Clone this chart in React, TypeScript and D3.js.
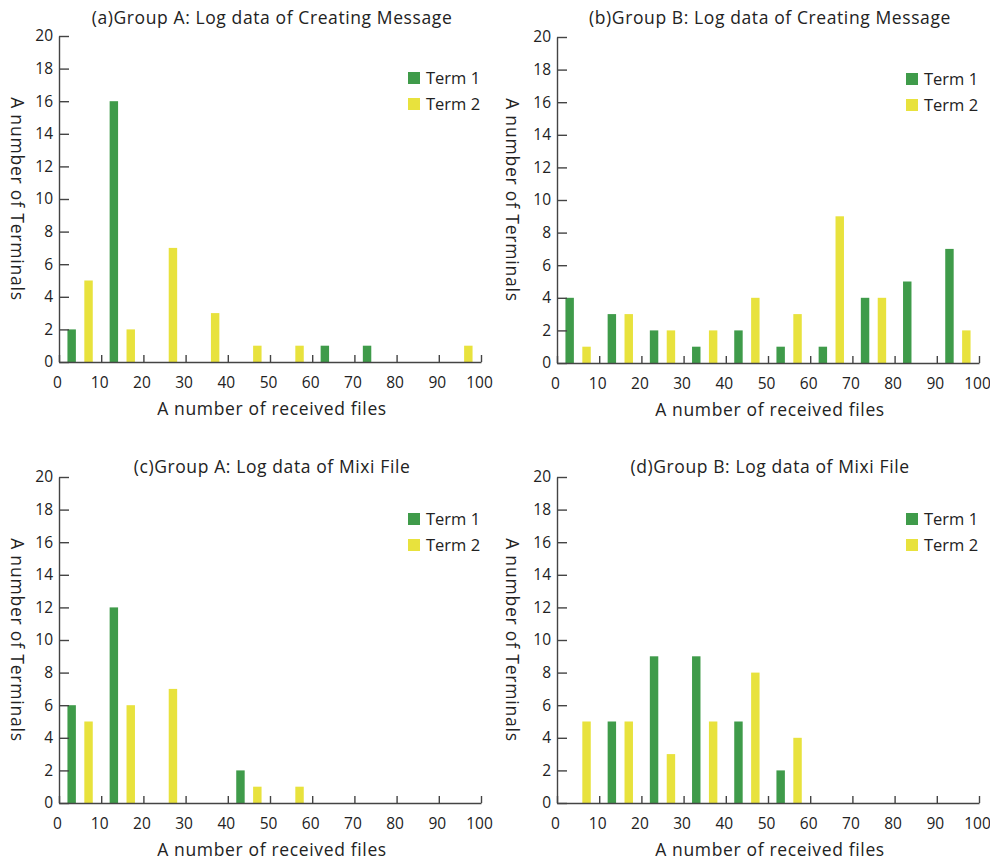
import React, { useEffect, useRef } from 'react';
import * as d3 from 'd3';

// bins of received files (each bin is 10 wide)
const binStarts = [0, 10, 20, 30, 40, 50, 60, 70, 80, 90];
const terms = ['Term 1', 'Term 2'];
const xTicks = [0, 10, 20, 30, 40, 50, 60, 70, 80, 90, 100];
const yTicks = [0, 2, 4, 6, 8, 10, 12, 14, 16, 18, 20];

// (a) Group A, Creating Message
const aTerm1 = [2, 16, 0, 0, 0, 0, 1, 1, 0, 0];
const aTerm2 = [5, 2, 7, 3, 1, 1, 0, 0, 0, 1];
// (b) Group B, Creating Message
const bTerm1 = [4, 3, 2, 1, 2, 1, 1, 4, 5, 7];
const bTerm2 = [1, 3, 2, 2, 4, 3, 9, 4, 0, 2];
// (c) Group A, Mixi File
const cTerm1 = [6, 12, 0, 0, 2, 0, 0, 0, 0, 0];
const cTerm2 = [5, 6, 7, 0, 1, 1, 0, 0, 0, 0];
// (d) Group B, Mixi File
const dTerm1 = [0, 5, 9, 9, 5, 2, 0, 0, 0, 0];
const dTerm2 = [5, 5, 3, 5, 8, 4, 0, 0, 0, 0];

const titles = [
  '(a)Group A: Log data of Creating Message',
  '(b)Group B: Log data of Creating Message',
  '(c)Group A: Log data of Mixi File',
  '(d)Group B: Log data of Mixi File',
];

const colors = { 'Term 1': '#3f9b4a', 'Term 2': '#e8e23d' };
const FONT = '"Open Sans", "Noto Sans", sans-serif';
const INK = '#222';
const AXIS = '#444';

const App = () => {
  const svgRef = useRef(null);

  useEffect(() => {
    document.body.style.margin = '0';
    const svg = d3.select(svgRef.current);
    svg.selectAll('*').remove();

    const plotW = 422;
    const plotH = 326;
    const layout = [
      { left: 59, top: 36, titleY: 23.5, yTitleX: 11 },
      { left: 557, top: 37, titleY: 23.5, yTitleX: 506 },
      { left: 59, top: 477, titleY: 472.5, yTitleX: 11 },
      { left: 557, top: 477, titleY: 472.5, yTitleX: 506 },
    ];
    const series = [
      [aTerm1, aTerm2],
      [bTerm1, bTerm2],
      [cTerm1, cTerm2],
      [dTerm1, dTerm2],
    ];

    layout.forEach((p, i) => {
      const g = svg.append('g').attr('transform', `translate(${p.left},${p.top})`);

      const x = d3.scaleLinear().domain([0, 100]).range([0, plotW]);
      const y = d3.scaleLinear().domain([0, 20]).range([plotH, 0]);
      // position of each term inside a bin
      const inner = d3.scaleBand().domain(terms).range([0, 10]).paddingInner(0.5).paddingOuter(0.5);

      const rows = [];
      terms.forEach((t, k) => {
        series[i][k].forEach((v, j) => {
          if (v > 0) rows.push({ term: t, bin: binStarts[j], value: v });
        });
      });

      g.selectAll('rect.bar')
        .data(rows)
        .join('rect')
        .attr('class', 'bar')
        .attr('x', d => x(d.bin + inner(d.term)))
        .attr('width', d => x(d.bin + inner(d.term) + inner.bandwidth()) - x(d.bin + inner(d.term)))
        .attr('y', d => y(d.value))
        .attr('height', d => plotH - y(d.value))
        .attr('fill', d => colors[d.term]);

      // axes
      const xAxis = g.append('g')
        .attr('transform', `translate(0,${plotH})`)
        .call(d3.axisBottom(x).tickValues(xTicks).tickSizeInner(-7).tickSizeOuter(0).tickPadding(15));
      const yAxis = g.append('g')
        .call(d3.axisLeft(y).tickValues(yTicks).tickSizeInner(-10).tickSizeOuter(0).tickPadding(6));

      [xAxis, yAxis].forEach(ax => {
        ax.select('.domain').attr('stroke', AXIS).attr('stroke-width', 1.4);
        ax.selectAll('.tick line').attr('stroke', AXIS).attr('stroke-width', 1.4);
        ax.selectAll('.tick text')
          .attr('fill', INK)
          .style('font-family', FONT)
          .style('font-size', '15.5px');
      });
      xAxis.selectAll('.tick text').attr('dx', -2);

      // title
      svg.append('text')
        .attr('x', p.left + plotW / 2 + 2)
        .attr('y', p.titleY)
        .attr('text-anchor', 'middle')
        .style('font-family', FONT)
        .style('font-size', '17.5px')
        .style('letter-spacing', '0.6px')
        .attr('fill', INK)
        .text(titles[i]);

      // x axis title
      g.append('text')
        .attr('x', plotW / 2 + 2)
        .attr('y', plotH + 53)
        .attr('text-anchor', 'middle')
        .style('font-family', FONT)
        .style('font-size', '17.5px')
        .style('letter-spacing', '0.65px')
        .attr('fill', INK)
        .text('A number of received files');

      // y axis title, reads top to bottom
      svg.append('text')
        .attr('transform', `translate(${p.yTitleX},${p.top + plotH / 2}) rotate(90)`)
        .attr('text-anchor', 'middle')
        .style('font-family', FONT)
        .style('font-size', '17.5px')
        .style('letter-spacing', '0.8px')
        .attr('fill', INK)
        .text('A number of Terminals');

      // legend
      const legend = g.append('g').attr('transform', `translate(349,36)`);
      terms.forEach((t, k) => {
        legend.append('rect')
          .attr('x', 0)
          .attr('y', k * 26)
          .attr('width', 12)
          .attr('height', 12)
          .attr('fill', colors[t]);
        legend.append('text')
          .attr('x', 18)
          .attr('y', k * 26 + 11.5)
          .style('font-family', FONT)
          .style('font-size', '16.5px')
          .attr('fill', INK)
          .text(t);
      });
    });
  }, []);

  return (
    <div>
      <svg ref={svgRef} width={990} height={861} style={{ display: 'block', background: '#fff' }}></svg>
    </div>
  );
};

export default App;
